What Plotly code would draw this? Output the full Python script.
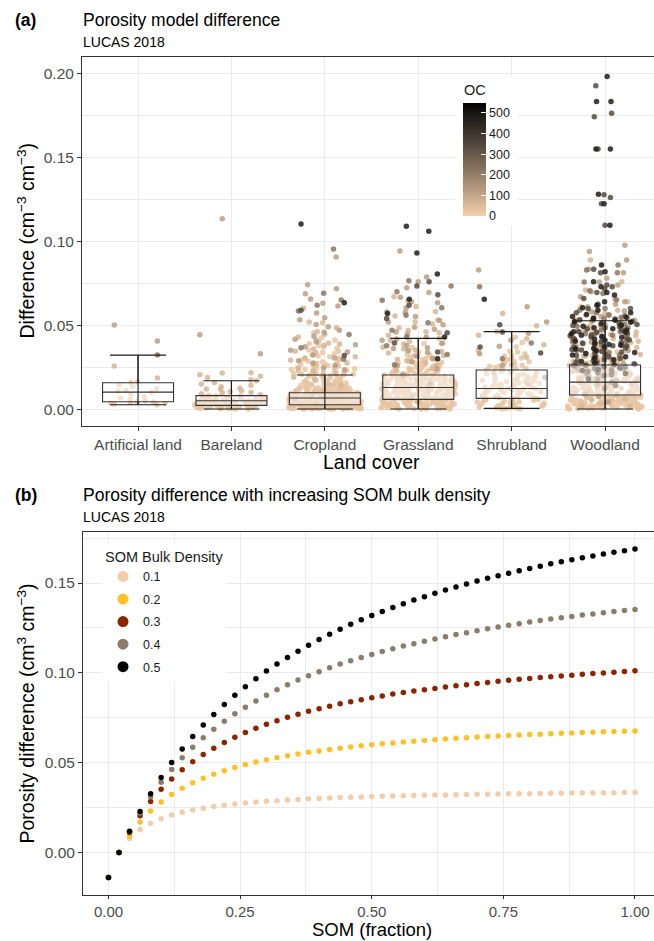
import numpy as np
import plotly.graph_objects as go

FONT = "Liberation Sans, Arial, sans-serif"

# ---------------- Panel (a) data ----------------
categories = ["Artificial land", "Bareland", "Cropland", "Grassland", "Shrubland", "Woodland"]

# box-plot statistics (cm3 cm-3)
box_q1 = [0.0044, 0.0022, 0.0026, 0.0058, 0.0064, 0.0084]
box_median = [0.0101, 0.0050, 0.0066, 0.0129, 0.0123, 0.0161]
box_q3 = [0.0157, 0.0080, 0.0097, 0.0203, 0.0233, 0.0263]
whisker_low = [0.0026, 0.0000, 0.0000, 0.0000, 0.0004, 0.0000]
whisker_high = [0.0322, 0.0169, 0.0203, 0.0422, 0.0462, 0.0527]

# OC classes (colour of the points) and colour-bar maximum
oc_classes = [25, 60, 120, 220, 340, 480]
oc_max = 548
oc_ticks = [0, 100, 200, 300, 400, 500]

# point values, units of 1e-4 cm3 cm-3, grouped by OC class
art_pale = [26, 30, 33, 36, 39, 42, 44, 50, 58, 66, 75, 88, 101, 106, 112, 121, 133, 143, 157, 162]
art_light = [185, 257]
art_tan = [406, 501]
art_brown = [322]
art_dark = []
art_black = []

bare_pale = [1, 2, 3, 5, 6, 8, 9, 10, 12, 13, 15, 16, 18, 19, 20, 22, 23, 25, 26, 28, 29, 31, 32, 34, 35,
             37, 38, 40, 41, 43, 45, 46, 48, 50, 51, 53, 55, 57, 59, 61, 63, 65, 67, 69, 71, 73, 75, 78, 81,
             4, 11, 24, 36, 49, 60, 0, 7, 14, 21, 27, 33, 39, 44, 52, 58, 64, 70, 77]
bare_light = [85, 91, 98, 104, 110, 118, 125, 133, 142, 150, 158, 169, 175, 188, 196, 205, 217, 216, 120, 100]
bare_tan = [330, 443, 1136]
bare_brown = []
bare_dark = []
bare_black = []

crop_pale = [0, 2, 3, 5, 6, 8, 9, 11, 12, 14, 15, 17, 18, 20, 21, 23, 24, 26, 1, 4,
             7, 10, 13, 16, 19, 22, 25, 27, 28, 30, 31, 33, 34, 36, 37, 39, 40, 42, 43, 45,
             46, 48, 49, 51, 52, 54, 55, 57, 58, 60, 61, 63, 64, 66, 67, 69, 70, 72, 73, 75,
             76, 78, 79, 81, 82, 84, 85, 87, 88, 90, 91, 93, 94, 96, 97, 99, 3, 8, 14, 19,
             24, 29, 35, 41, 47, 53, 59, 65, 71, 77, 83, 89, 95, 5, 12, 18, 26, 32, 38, 44,
             50, 56, 62, 68, 74, 80, 86, 92, 98, 101, 104, 107, 110, 113, 116, 119, 122, 125, 128, 131,
             134, 137, 140, 143, 146, 150, 154, 158, 162, 166, 170, 175, 180, 185, 190, 196, 203, 100, 103, 108,
             112, 118, 124, 130, 138, 145, 153, 161, 172, 184, 197, 9, 16, 23, 31, 38, 47, 56, 65, 74,
             83, 92, 0, 1, 2, 4, 6, 7, 10, 11, 13, 15, 17, 20, 22, 25, 28, 30, 33, 36,
             40, 44, 48, 52, 57, 61, 66, 70, 75, 79, 84, 88, 93, 97, 102, 106, 111, 115, 120, 127,
             1, 3, 5, 8, 10, 13, 15, 18, 21, 24, 27, 29, 32, 35, 37, 41, 43, 46, 50, 53,
             56, 59, 62, 64, 67, 70, 73, 77, 80, 82, 86, 89, 91, 94, 98, 105, 109, 114, 121, 126,
             133, 139, 147, 156, 164, 174, 186, 199,
             210, 214, 219, 223, 228, 232, 238, 243, 249, 255, 262, 270, 278, 286, 295, 305, 317, 330,
             345, 362, 380, 402, 425, 455, 205, 208, 212, 217, 221, 226, 231, 236, 241, 247, 252, 259,
             266, 274, 283, 292, 301, 312, 324, 338, 352, 371, 390, 410]
crop_light = [35, 88, 142, 176, 205, 226, 251, 268, 291, 312, 336, 358, 389, 412, 447, 486, 520, 462, 395, 515,
              602, 60, 110, 150, 190, 212, 240, 275, 305, 345, 380, 430]
crop_tan = [234, 261, 288, 322, 351, 384, 417, 458, 492, 533, 574, 615, 657, 688, 718, 742, 907, 631,
            245, 275, 305, 340, 372, 400, 435, 470, 505, 545]
crop_brown = [298, 366, 445, 585, 651, 620, 691, 955]
crop_dark = [320, 590]
crop_black = [635, 1104]

grass_pale = [0, 3, 5, 8, 10, 13, 15, 18, 20, 23, 25, 28, 30, 33, 35, 38, 40, 43, 45, 48,
              50, 53, 55, 58, 60, 63, 65, 68, 70, 73, 75, 78, 80, 83, 85, 88, 90, 93, 95, 98,
              100, 103, 105, 108, 110, 113, 115, 118, 120, 123, 125, 128, 130, 133, 135, 138, 140, 143, 145, 148,
              150, 153, 156, 159, 162, 165, 168, 171, 174, 177, 180, 183, 186, 189, 192, 195, 198, 201, 204, 207,
              2, 7, 12, 17, 22, 27, 32, 37, 42, 47, 52, 57, 62, 67, 72, 77, 82, 87, 92, 97,
              102, 107, 112, 117, 122, 127, 132, 137, 142, 147, 152, 158, 164, 170, 176, 182, 188, 194, 200, 210,
              215, 220, 226, 232, 238, 244, 250, 257, 264, 271, 278, 286, 294, 302, 1, 6, 11, 16, 21, 26,
              31, 36, 41, 46, 51, 56, 61, 66, 71, 76, 81, 86, 91, 96, 101, 106, 111, 116, 121, 126,
              131, 136, 141, 146, 151, 157, 163, 169, 175, 181, 187, 193, 199, 206, 213, 221, 229, 237, 246, 255,
              265, 275, 286, 297, 310, 323, 337, 4, 9, 14, 19, 24, 29, 34, 39, 44, 49, 54, 59, 64,
              2, 6, 10, 14, 18, 22, 26, 30, 34, 38, 42, 46, 50, 54, 58, 62, 66, 70, 74, 78,
              82, 86, 90, 94, 98, 104, 110, 116, 122, 128, 134, 140, 146, 152, 160, 168, 176, 184, 192, 202,
              212, 224, 236, 248, 262, 276, 290, 306, 324, 345, 368, 392]
grass_light = [45, 120, 180, 228, 254, 276, 301, 318, 335, 352, 369, 388, 405, 423, 441, 462, 484, 507,
               531, 556, 583, 612, 645, 671, 343, 298, 262, 395, 455, 520, 80, 210, 240, 285, 320, 360, 410, 470]
grass_tan = [150, 240, 282, 315, 338, 362, 391, 418, 448, 476, 503, 528, 552, 577, 603, 634, 667, 696,
             724, 760, 788, 943, 489, 411, 366, 200, 260, 300, 350, 380, 430, 460, 520, 580, 640]
grass_brown = [265, 325, 378, 430, 470, 515, 560, 605, 650, 700, 766, 734]
grass_dark = [340, 395, 455, 540, 620, 682, 734, 760]
grass_black = [300, 430, 570, 655, 806, 931, 1061, 1091]

shrub_pale = [0, 4, 8, 12, 16, 20, 24, 28, 32, 36, 40, 44, 48, 52, 56, 60, 64, 68, 72, 76,
              80, 84, 88, 92, 96, 100, 104, 108, 112, 116, 120, 124, 128, 132, 136, 140, 144, 148, 152, 156,
              160, 165, 170, 175, 180, 185, 190, 195, 200, 206, 212, 218, 224, 230, 236, 242, 248, 255, 262, 270,
              278, 286, 295, 305, 316, 328, 341, 2, 10, 18, 26, 34, 42, 50, 58, 66, 74, 82, 90, 98,
              106, 114, 122, 130, 138, 146, 154, 163, 172, 182, 192, 203, 215, 227, 240, 254, 268, 283, 300, 320,
              345, 372, 398, 428, 6, 14, 22, 30, 46, 62]
shrub_light = [150, 220, 265, 310, 350, 384, 420, 463, 497, 571, 440]
shrub_tan = [190, 260, 330, 375, 410, 452, 520, 610, 830]
shrub_brown = [300, 395, 730]
shrub_dark = [335, 370, 460, 503]
shrub_black = [655]

wood_pale = [0, 2, 4, 6, 8, 10, 12, 14, 16, 18, 20, 22, 24, 26, 28, 30, 32, 34, 36, 38,
             40, 43, 46, 49, 52, 55, 58, 61, 64, 67, 70, 73, 76, 79, 82, 85, 88, 91, 94, 97,
             100, 104, 108, 112, 116, 120, 124, 128, 132, 136, 140, 144, 148, 152, 156, 160, 164, 168, 172, 176,
             180, 185, 190, 195, 200, 205, 210, 216, 222, 228, 234, 240, 247, 254, 261, 268, 276, 284, 292, 300,
             1, 5, 9, 13, 17, 21, 25, 29, 33, 37, 41, 45, 50, 56, 62, 68, 74, 80, 86, 93,
             99, 106, 113, 121, 129, 137, 145, 154, 163, 173, 183, 194, 206, 219, 233, 248, 264, 281, 310, 340,
             3, 7, 11, 15, 19, 23, 27, 31, 35, 39,
             44, 48, 54, 60, 66, 72, 78, 84, 90, 96, 102, 110, 118, 126, 134, 142, 150, 158, 166, 174,
             5, 15, 25, 35, 45, 55, 65, 75, 85, 95, 105, 115, 125, 135, 145, 155, 165, 175, 185, 195,
             205, 215, 225, 235, 245, 255, 265, 275]
wood_light = [15, 35, 60, 85, 110, 135, 160, 185, 205, 225, 245, 262, 280, 298, 315, 332, 350, 368, 386, 405,
              425, 445, 467, 490, 515, 540, 570, 610, 655, 710, 48, 98, 148, 198, 238, 272, 305, 340, 375, 412,
              452, 495, 530, 560, 590, 70, 125, 175, 215, 255, 290, 325, 360, 398, 438, 480, 522, 640, 760, 890,
              20, 55, 95, 140, 180, 220, 250, 285, 320, 355, 390, 420, 460, 500]
wood_tan = [40, 90, 130, 170, 210, 240, 270, 300, 325, 350, 375, 400, 420, 440, 465, 488, 510, 535, 560, 585,
            610, 640, 670, 700, 740, 780, 834, 890, 941, 977, 75, 150, 195, 230, 260, 290, 318, 345, 372, 398,
            428, 458, 482, 505, 528, 552, 580, 625, 759, 814]
wood_brown = [120, 180, 220, 255, 285, 310, 335, 360, 382, 405, 428, 450, 472, 495, 518, 540, 563, 590, 620, 652,
              690, 706, 759, 814, 830, 860, 160, 240, 300, 350, 395, 440, 485, 530, 575, 600, 450, 380, 270, 210,
              230, 262, 292, 322, 346, 372, 402, 422, 462, 504, 546]
wood_dark = [140, 200, 235, 262, 288, 312, 335, 356, 378, 398, 418, 438, 458, 478, 498, 518, 538, 556, 575, 598,
             625, 660, 695, 730, 814, 834, 1097, 1226, 1262, 1279, 1552, 1745, 1765, 1930, 250, 280, 320, 345,
             370, 392, 412, 432, 452, 472, 492, 512, 532, 600, 718, 741,
             205, 215, 226, 244, 258, 268, 276, 294, 302, 316, 328, 340, 352, 364, 376, 388, 402, 416, 428, 444,
             462, 486, 504, 524, 544]
wood_black = [180, 230, 265, 295, 322, 348, 372, 395, 418, 440, 462, 485, 508, 530, 552, 575, 605, 640, 680, 730,
              860, 1097, 1282, 1552, 1552, 1835, 1835, 1984, 245, 275, 305, 332, 358, 382, 405, 428, 450, 472,
              495, 518, 540, 565, 590, 620, 695, 760, 820, 1226,
              212, 238, 252, 284, 312, 338, 362, 386, 410, 434, 458, 480, 500, 522, 546]

# ---------------- Panel (b) data ----------------
som_fraction = [0.00, 0.02, 0.04, 0.06, 0.08, 0.10, 0.12, 0.14, 0.16, 0.18, 0.20, 0.22, 0.24, 0.26, 0.28,
                0.30, 0.32, 0.34, 0.36, 0.38, 0.40, 0.42, 0.44, 0.46, 0.48, 0.50, 0.52, 0.54, 0.56, 0.58,
                0.60, 0.62, 0.64, 0.66, 0.68, 0.70, 0.72, 0.74, 0.76, 0.78, 0.80, 0.82, 0.84, 0.86, 0.88,
                0.90, 0.92, 0.94, 0.96, 0.98, 1.00]
diff_bd01 = [-0.0139, 0.0000, 0.0078, 0.0128, 0.0163, 0.0189, 0.0209, 0.0224, 0.0237, 0.0247, 0.0256, 0.0264,
             0.0270, 0.0276, 0.0281, 0.0285, 0.0289, 0.0293, 0.0296, 0.0299, 0.0301, 0.0304, 0.0306, 0.0308,
             0.0310, 0.0312, 0.0313, 0.0315, 0.0316, 0.0318, 0.0319, 0.0320, 0.0321, 0.0322, 0.0323, 0.0324,
             0.0325, 0.0326, 0.0327, 0.0327, 0.0328, 0.0329, 0.0330, 0.0330, 0.0331, 0.0331, 0.0332, 0.0333,
             0.0333, 0.0334, 0.0334]
diff_bd02 = [-0.0139, 0.0000, 0.0093, 0.0170, 0.0231, 0.0281, 0.0323, 0.0358, 0.0388, 0.0413, 0.0436, 0.0456,
             0.0474, 0.0490, 0.0504, 0.0517, 0.0528, 0.0539, 0.0549, 0.0558, 0.0566, 0.0574, 0.0581, 0.0588,
             0.0594, 0.0600, 0.0605, 0.0610, 0.0615, 0.0620, 0.0624, 0.0628, 0.0632, 0.0636, 0.0639, 0.0643,
             0.0646, 0.0649, 0.0652, 0.0654, 0.0657, 0.0659, 0.0661, 0.0664, 0.0666, 0.0668, 0.0670, 0.0672,
             0.0674, 0.0675, 0.0677]
diff_bd03 = [-0.0139, 0.0000, 0.0112, 0.0205, 0.0284, 0.0352, 0.0410, 0.0461, 0.0506, 0.0546, 0.0581, 0.0613,
             0.0642, 0.0668, 0.0692, 0.0714, 0.0734, 0.0753, 0.0770, 0.0786, 0.0801, 0.0815, 0.0828, 0.0840,
             0.0851, 0.0862, 0.0872, 0.0882, 0.0891, 0.0899, 0.0906, 0.0913, 0.0921, 0.0928, 0.0934, 0.0941,
             0.0947, 0.0953, 0.0959, 0.0964, 0.0969, 0.0974, 0.0979, 0.0983, 0.0987, 0.0992, 0.0996, 0.1000,
             0.1004, 0.1008, 0.1012]
diff_bd04 = [-0.0139, 0.0000, 0.0117, 0.0220, 0.0311, 0.0391, 0.0463, 0.0528, 0.0586, 0.0639, 0.0687, 0.0731,
             0.0772, 0.0809, 0.0844, 0.0876, 0.0906, 0.0934, 0.0960, 0.0984, 0.1007, 0.1028, 0.1049, 0.1068,
             0.1086, 0.1103, 0.1119, 0.1135, 0.1149, 0.1162, 0.1176, 0.1189, 0.1201, 0.1213, 0.1224, 0.1235,
             0.1246, 0.1256, 0.1265, 0.1274, 0.1283, 0.1292, 0.1300, 0.1307, 0.1314, 0.1322, 0.1328, 0.1335,
             0.1341, 0.1347, 0.1353]
diff_bd05 = [-0.0139, 0.0000, 0.0119, 0.0229, 0.0328, 0.0418, 0.0501, 0.0576, 0.0646, 0.0710, 0.0769, 0.0824,
             0.0875, 0.0923, 0.0968, 0.1010, 0.1049, 0.1086, 0.1121, 0.1154, 0.1186, 0.1215, 0.1243, 0.1270,
             0.1295, 0.1319, 0.1342, 0.1364, 0.1385, 0.1405, 0.1424, 0.1443, 0.1461, 0.1478, 0.1495, 0.1511,
             0.1526, 0.1541, 0.1555, 0.1568, 0.1581, 0.1594, 0.1607, 0.1618, 0.1630, 0.1641, 0.1651, 0.1661,
             0.1671, 0.1680, 0.1689]
bd_labels = ["0.1", "0.2", "0.3", "0.4", "0.5"]
bd_colors = ["#F3CCA9", "#FFC125", "#8B2500", "#8B7D6B", "#000000"]

points = {
    "Artificial land": [art_pale, art_light, art_tan, art_brown, art_dark, art_black],
    "Bareland": [bare_pale, bare_light, bare_tan, bare_brown, bare_dark, bare_black],
    "Cropland": [crop_pale, crop_light, crop_tan, crop_brown, crop_dark, crop_black],
    "Grassland": [grass_pale, grass_light, grass_tan, grass_brown, grass_dark, grass_black],
    "Shrubland": [shrub_pale, shrub_light, shrub_tan, shrub_brown, shrub_dark, shrub_black],
    "Woodland": [wood_pale, wood_light, wood_tan, wood_brown, wood_dark, wood_black],
}
bd_series = [diff_bd01, diff_bd02, diff_bd03, diff_bd04, diff_bd05]


# ---------------- colour helpers (Lab interpolation like ggplot) ----------------
def _hex2rgb(h):
    h = h.lstrip("#")
    return np.array([int(h[i:i + 2], 16) for i in (0, 2, 4)], float)


def _rgb2lab(rgb):
    c = rgb / 255.0
    c = np.where(c <= 0.04045, c / 12.92, ((c + 0.055) / 1.055) ** 2.4)
    M = np.array([[0.4124, 0.3576, 0.1805], [0.2126, 0.7152, 0.0722], [0.0193, 0.1192, 0.9505]])
    xyz = M @ c / np.array([0.95047, 1.0, 1.08883])
    d = 6 / 29
    f = np.where(xyz > d ** 3, np.cbrt(xyz), xyz / (3 * d * d) + 4 / 29)
    return np.array([116 * f[1] - 16, 500 * (f[0] - f[1]), 200 * (f[1] - f[2])])


def _lab2rgb(lab):
    L, a, b = lab
    fy = (L + 16) / 116
    fx = fy + a / 500
    fz = fy - b / 200
    d = 6 / 29
    f = np.array([fx, fy, fz])
    xyz = np.where(f > d, f ** 3, 3 * d * d * (f - 4 / 29)) * np.array([0.95047, 1.0, 1.08883])
    Mi = np.array([[3.2406, -1.5372, -0.4986], [-0.9689, 1.8758, 0.0415], [0.0557, -0.2040, 1.0570]])
    c = Mi @ xyz
    c = np.clip(c, 0, 1)
    c = np.where(c <= 0.0031308, 12.92 * c, 1.055 * c ** (1 / 2.4) - 0.055)
    r, g, bb = (np.clip(c, 0, 1) * 255).round().astype(int)
    return f"rgb({r},{g},{bb})"


LOW, HIGH = _rgb2lab(_hex2rgb("#F5CFAB")), _rgb2lab(_hex2rgb("#000000"))


def oc_color(v):
    t = min(max(v / oc_max, 0), 1)
    return _lab2rgb(LOW + (HIGH - LOW) * t)


colorscale = [[i / 10, oc_color(oc_max * i / 10)] for i in range(11)]

fig = go.Figure()

# ---------------- Panel (a): jittered points ----------------
for k, oc in enumerate(oc_classes):
    for band in (0, 1):
        xs, ys = [], []
        for i, cat in enumerate(categories):
            vals = np.array(points[cat][k], float) * 1e-4
            if vals.size == 0:
                continue
            sel = vals <= whisker_high[i] + 1e-9 if band == 0 else vals > whisker_high[i] + 1e-9
            xs += [cat] * int(sel.sum())
            ys += list(vals[sel])
        if not ys:
            continue
        fig.add_trace(go.Box(
            x=xs, y=ys, xaxis="x", yaxis="y",
            boxpoints="all", jitter=1, pointpos=0, width=0.8,
            fillcolor="rgba(0,0,0,0)", line=dict(width=0, color="rgba(0,0,0,0)"),
            marker=dict(color=oc_color(oc), size=5.5, opacity=0.85, line=dict(width=0)),
            showlegend=False, hoverinfo="y",
        ))

# box plot
fig.add_trace(go.Box(
    x=categories, q1=box_q1, median=box_median, q3=box_q3,
    lowerfence=whisker_low, upperfence=whisker_high,
    xaxis="x", yaxis="y", boxpoints=False, width=0.76, whiskerwidth=0,
    fillcolor="rgba(255,255,255,0.45)", line=dict(color="#333333", width=1.1),
    showlegend=False,
))
# whisker error bars
fig.add_trace(go.Scatter(
    x=categories, y=whisker_low, xaxis="x", yaxis="y", mode="markers",
    marker=dict(size=1, opacity=0),
    error_y=dict(type="data", symmetric=False,
                 array=[h - l for h, l in zip(whisker_high, whisker_low)],
                 arrayminus=[0] * len(categories), width=28, thickness=1.1, color="#1A1A1A"),
    showlegend=False, hoverinfo="skip",
))
# colour bar
fig.add_trace(go.Scatter(
    x=[None], y=[None], xaxis="x", yaxis="y", mode="markers", showlegend=False, hoverinfo="skip",
    marker=dict(color=[0], cmin=0, cmax=oc_max, colorscale=colorscale, showscale=True,
                colorbar=dict(thickness=23, thicknessmode="pixels", len=113, lenmode="pixels",
                              x=463 / 654, xanchor="left", y=1 - 103 / 941, yanchor="top",
                              xpad=0, ypad=0, outlinewidth=0, tickmode="array", tickvals=oc_ticks,
                              ticks="inside", ticklen=5, tickcolor="white", tickwidth=1,
                              tickfont=dict(size=12.5, color="#1A1A1A", family=FONT),
                              bgcolor="rgba(0,0,0,0)")),
))

# ---------------- Panel (b) ----------------
for lab, col, ys in zip(bd_labels, bd_colors, bd_series):
    fig.add_trace(go.Scatter(
        x=som_fraction, y=ys, xaxis="x2", yaxis="y2", mode="markers",
        marker=dict(color=col, size=5.5), showlegend=False, name=lab,
    ))
for lab, col in zip(bd_labels, bd_colors):
    fig.add_trace(go.Scatter(
        x=[None], y=[None], xaxis="x2", yaxis="y2", mode="markers", name=lab,
        legendgroup=lab, marker=dict(color=col, size=11), showlegend=True,
    ))

GRID = "#EBEBEB"
LINE = "#333333"
TICKF = dict(size=15.5, color="#4D4D4D", family=FONT)
common = dict(showgrid=True, gridcolor=GRID, gridwidth=1, zeroline=False, showline=True,
              linecolor=LINE, linewidth=1, ticks="outside", ticklen=4, tickcolor=LINE, tickwidth=1,
              tickfont=TICKF)
x2_common = dict(common)
x2_common.update(ticklen=3, tickfont=dict(size=15, color="#4D4D4D", family=FONT))

fig.update_layout(
    width=654, height=941, margin=dict(l=0, r=0, t=0, b=0),
    paper_bgcolor="white", plot_bgcolor="white", boxmode="overlay",
    font=dict(family=FONT, color="#000000"),
    xaxis=dict(domain=[82 / 654, 1], anchor="y", type="category", categoryorder="array",
               categoryarray=categories, range=[-0.6, 5.524], mirror=True, **common),
    yaxis=dict(domain=[1 - 426 / 941, 1 - 57 / 941], anchor="x", range=[-0.0101, 0.2101],
               tickmode="array", tickvals=[0, 0.05, 0.10, 0.15, 0.20], tickformat=".2f",
               minor=dict(tickmode="array", tickvals=[0.025, 0.075, 0.125, 0.175], showgrid=True,
                          gridcolor=GRID, gridwidth=0.6, ticks=""), **common),
    xaxis2=dict(domain=[83 / 654, 1], anchor="y2", range=[-0.0484, 1.0361], mirror=True,
                tickmode="array", tickvals=[0, 0.25, 0.5, 0.75, 1.0], tickformat=".2f",
                minor=dict(tickmode="array", tickvals=[0.125, 0.375, 0.625, 0.875], showgrid=True,
                           gridcolor=GRID, gridwidth=0.6, ticks=""), **x2_common),
    yaxis2=dict(domain=[1 - 895 / 941, 1 - 532 / 941], anchor="x2", range=[-0.0236, 0.1784],
                tickmode="array", tickvals=[0, 0.05, 0.10, 0.15], tickformat=".2f",
                minor=dict(tickmode="array", tickvals=[0.025, 0.075, 0.125, 0.175], showgrid=True,
                           gridcolor=GRID, gridwidth=0.6, ticks=""), **common),
    legend=dict(x=103 / 654, y=1 - 543 / 941, xanchor="left", yanchor="top", bgcolor="white",
                title=dict(text="SOM Bulk Density", font=dict(size=14.5, color="#1A1A1A", family=FONT)),
                font=dict(size=12.5, color="#1A1A1A", family=FONT), tracegroupgap=3.3,
                itemsizing="trace", traceorder="grouped"),
    shapes=[dict(type="rect", xref="paper", yref="paper", x0=455 / 654, x1=518 / 654,
                 y0=1 - 226 / 941, y1=1 - 77 / 941, fillcolor="white", line=dict(width=0),
                 layer="above")],
)


def ann(text, x, y, size, **kw):
    d = dict(text=text, x=x / 654, y=1 - y / 941, xref="paper", yref="paper", showarrow=False,
             xanchor=kw.pop("xanchor", "left"), yanchor="middle",
             font=dict(size=size, color=kw.pop("color", "#000000"), family=FONT))
    d.update(kw)
    return d


fig.update_layout(annotations=[
    ann("<b>(a)</b>", 13, 20, 17.5),
    ann("Porosity model difference", 81, 20, 17.5),
    ann("LUCAS 2018", 81, 42, 14),
    ann("<b>(b)</b>", 13, 495, 17.5),
    ann("Porosity difference with increasing SOM bulk density", 81, 495, 17.5),
    ann("LUCAS 2018", 81, 517, 14),
    ann("Land cover", 371.5, 462, 19.5, xanchor="center"),
    ann("SOM (fraction)", 371.5, 929.5, 18.5, xanchor="center", borderpad=0),
    ann("Difference (cm<sup>−3</sup> cm<sup>−3</sup>)", 25, 241.5, 19.5, xanchor="center", textangle=-90),
    ann("Porosity difference (cm<sup>3</sup> cm<sup>−3</sup>)", 25, 713.5, 19.5, xanchor="center",
        textangle=-90),
    ann("OC", 474.5, 90, 14.5, xanchor="center", color="#1A1A1A"),
])

fig.write_html("out.html")
